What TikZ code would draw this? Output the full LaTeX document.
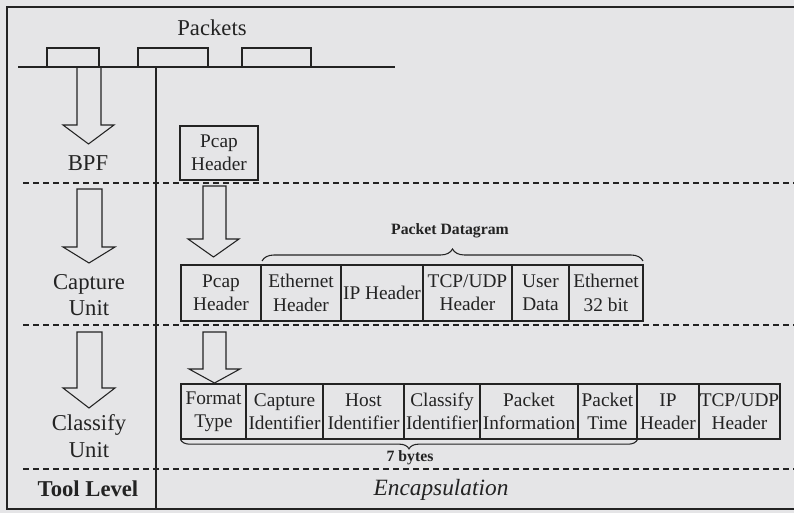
\documentclass[tikz,border=0pt]{standalone}
\usepackage{fontspec}
\setmainfont{Liberation Serif}
\usetikzlibrary{decorations.pathreplacing}
\definecolor{bg}{RGB}{229,229,231}
\definecolor{ink}{RGB}{35,35,35}
\tikzset{
  x=0.75pt, y=-0.75pt,
  cellbox/.style={draw=ink, line width=0.8pt, inner sep=0pt, align=center, text=ink, font=\fontsize{14.5}{17.5}\selectfont},
  lbl/.style={text=ink, align=center, font=\fontsize{17}{20}\selectfont},
  sep/.style={draw=ink, line width=1pt, dash pattern=on 4.5pt off 3pt},
  blk/.style={draw=ink, line width=0.8pt, line join=miter},
  small/.style={text=ink, font=\bfseries\fontsize{11.8}{13}\selectfont},
  frame/.style={draw=ink, line width=2pt},
  thin/.style={draw=ink, line width=0.8pt},
}
% name, text, x1, x2, y1, y2
\newcommand\mkcell[6]{\node[cellbox, minimum width={(#4-#3)*0.75pt}, minimum height={(#6-#5)*0.75pt}] (#1) at ({(#3+#4)/2},{(#5+#6)/2}) {#2};}
% shaft x1, x2, ytop, yneck, head x1, x2, ytip
\newcommand\blockarrow[7]{\draw[blk] (#1,#3) -- (#1,#4) -- (#5,#4) -- ({(#5+#6)/2},#7) -- (#6,#4) -- (#2,#4) -- (#2,#3) -- cycle;}
\begin{document}
\begin{tikzpicture}
\useasboundingbox[fill=bg] (0,0) rectangle (794,513);
% frame
\draw[frame] (794,7) -- (7,7) -- (7,509) -- (794,509);
% packets line
\coordinate (bl) at (18,67);
\coordinate (br) at (395,67);
\draw[thin] (bl) -- (br);
\draw[thin] (47,67) -- (47,48) -- (99,48) -- (99,67);
\draw[thin] (138,67) -- (138,48) -- (208,48) -- (208,67);
\draw[thin] (242,67) -- (242,48) -- (311,48) -- (311,67);
\node[lbl] (packets) at (212,28) {Packets};
% vertical separator
\coordinate (vt) at (156,67);
\coordinate (vb) at (156,509);
\draw[thin] (vt) -- (vb);
% dashed separators
\coordinate (d1l) at (23,183); \coordinate (d1r) at (794,183);
\coordinate (d2l) at (23,325); \coordinate (d2r) at (794,325);
\coordinate (d3l) at (23,469); \coordinate (d3r) at (794,469);
\draw[sep] (d1l) -- (d1r);
\draw[sep] (d2l) -- (d2r);
\draw[sep] (d3l) -- (d3r);
% left column arrows and labels
\blockarrow{77}{101}{67}{125}{63}{114}{144}
\blockarrow{77}{102}{189}{247}{63}{115}{263}
\blockarrow{77}{102}{332}{388}{63}{115}{408}
\node[lbl] (bpf) at (88,163) {BPF};
\node[lbl] (cap) at (89,295) {Capture\\Unit};
\node[lbl] (cls) at (89,436) {Classify\\Unit};
\node[lbl, font=\bfseries\fontsize{17}{20}\selectfont] (tool) at (88,489) {Tool Level};
\node[lbl, font=\itshape\fontsize{17.5}{20}\selectfont] (enc) at (441,490) {Encapsulation};
% BPF level
\mkcell{pcap0}{Pcap\\Header}{180}{258}{126}{180}
% capture level
\blockarrow{203}{226}{186}{239}{188}{239}{257}
\mkcell{c1}{Pcap\\Header}{181}{261}{265}{321}
\mkcell{c2}{Ethernet\\Header}{261}{341}{265}{321}
\mkcell{c3}{IP Header}{341}{423}{265}{321}
\mkcell{c4}{TCP/UDP\\Header}{423}{512}{265}{321}
\mkcell{c5}{User\\Data}{512}{569}{265}{321}
\mkcell{c6}{Ethernet\\32 bit}{569}{643}{265}{321}
\coordinate (pbl) at (262,261);
\coordinate (pbr) at (643,261);
\draw[thin, decorate, decoration={brace, amplitude=9pt}] (pbl) -- (pbr);
\node[small] (pd) at (450,231) {Packet Datagram};
% classify level
\blockarrow{203}{226}{332}{369}{189}{240}{383}
\mkcell{k1}{Format\\Type}{181}{246}{384}{439}
\mkcell{k2}{Capture\\Identifier}{246}{323}{384}{439}
\mkcell{k3}{Host\\Identifier}{323}{404}{384}{439}
\mkcell{k4}{Classify\\Identifier}{404}{480}{384}{439}
\mkcell{k5}{Packet\\Information}{480}{578}{384}{439}
\mkcell{k6}{Packet\\Time}{578}{637}{384}{439}
\mkcell{k7}{IP\\Header}{637}{699}{384}{439}
\mkcell{k8}{TCP/UDP\\Header}{699}{780}{384}{439}
\draw[thin, decorate, decoration={brace, amplitude=7pt}] (k6.south east) -- (k1.south west);
\node[small] (sb) at (410,458) {7 bytes};
\end{tikzpicture}
\end{document}
